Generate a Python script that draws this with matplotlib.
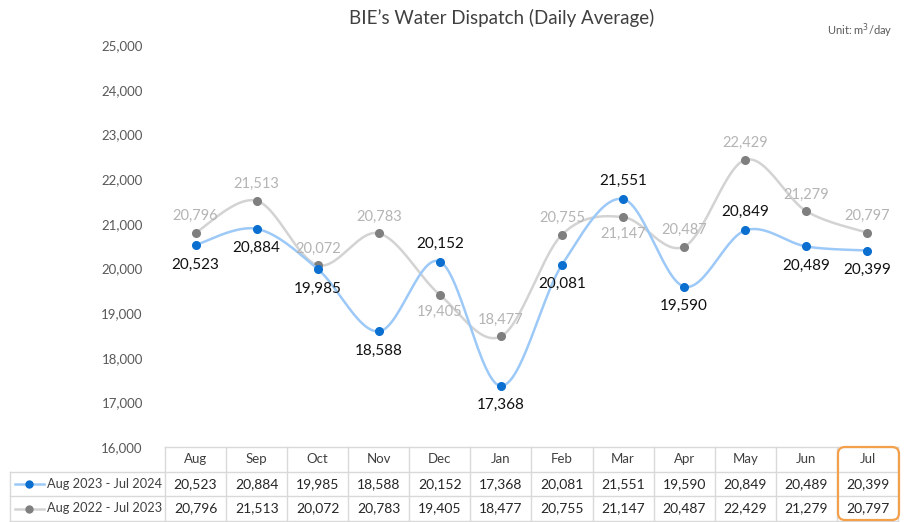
import numpy as np
import matplotlib.pyplot as plt
import matplotlib.transforms as mtransforms
from matplotlib.patches import FancyBboxPatch
from matplotlib.ticker import FuncFormatter

plt.rcParams["font.family"] = ["Lato", "DejaVu Sans"]

# data
months = ["Aug", "Sep", "Oct", "Nov", "Dec", "Jan", "Feb", "Mar", "Apr", "May", "Jun", "Jul"]
water_2324 = [20523, 20884, 19985, 18588, 20152, 17368, 20081, 21551, 19590, 20849, 20489, 20399]
water_2223 = [20796, 21513, 20072, 20783, 19405, 18477, 20755, 21147, 20487, 22429, 21279, 20797]
name_2324 = "Aug 2023 - Jul 2024"
name_2223 = "Aug 2022 - Jul 2023"

# where each data label sits
pos_2324 = ["below", "below", "below", "below", "above", "below",
            "below", "above", "below", "above", "below", "below"]
pos_2223 = ["above", "above", "above", "above", "below", "above",
            "above", "below", "above", "above", "above", "above"]


def smooth(xs, ys, n=30):
    # Catmull-Rom curve through the points (like Excel's smoothed line)
    p = np.column_stack([xs, ys]).astype(float)
    p = np.vstack([p[0], p, p[-1]])
    out = []
    t = np.linspace(0, 1, n)[:, None]
    for i in range(1, len(p) - 2):
        p0, p1, p2, p3 = p[i - 1], p[i], p[i + 1], p[i + 2]
        seg = 0.5 * ((2 * p1) + (-p0 + p2) * t + (2 * p0 - 5 * p1 + 4 * p2 - p3) * t ** 2
                     + (-p0 + 3 * p1 - 3 * p2 + p3) * t ** 3)
        out.append(seg)
    out = np.vstack(out)
    return out[:, 0], out[:, 1]


fig = plt.figure(figsize=(9.12, 5.22), dpi=100)
ax = fig.add_axes([165 / 912, 75 / 522, 733 / 912, 402 / 522])

x = np.arange(len(months))

# gray series (previous year)
sx, sy = smooth(x, water_2223)
ax.plot(sx, sy, color="#d3d3d3", lw=1.8, zorder=2, solid_capstyle="round")
ax.plot(x, water_2223, "o", color="#7f7f7f", ms=5.5, zorder=3)

# blue series (current year)
sx, sy = smooth(x, water_2324)
ax.plot(sx, sy, color="#9cc9f7", lw=1.8, zorder=4, solid_capstyle="round")
ax.plot(x, water_2324, "o", color="#0b6fd0", ms=5.5, zorder=5)

for i, v in enumerate(water_2223):
    dy = 12 if pos_2223[i] == "above" else -12
    ax.annotate(f"{v:,}", (i, v), xytext=(0, dy), textcoords="offset points",
                ha="center", va="center", fontsize=10.5, color="#b4b4b4", zorder=6)
for i, v in enumerate(water_2324):
    dy = 13 if pos_2324[i] == "above" else -14
    ax.annotate(f"{v:,}", (i, v), xytext=(0, dy), textcoords="offset points",
                ha="center", va="center", fontsize=11, color="#111111", zorder=7)

ax.set_xlim(-0.5, 11.5)
ax.set_ylim(16000, 25000)
ax.set_yticks(range(16000, 25001, 1000))
ax.yaxis.set_major_formatter(FuncFormatter(lambda v, p: f"{int(v):,}"))
ax.tick_params(axis="y", length=0, pad=16, labelsize=9.5, labelcolor="#595959")
ax.set_xticks([])
for s in ax.spines.values():
    s.set_visible(False)

# data table under the plot
tr = mtransforms.blended_transform_factory(ax.transData, ax.transAxes)
r = 24.6 / 402
left = (10 - 165) / (733 / 12) - 0.5
grid = dict(color="#d9d9d9", lw=1, transform=tr, clip_on=False, zorder=1)
ax.plot([-0.5, 11.5], [0, 0], **grid)
for k in (1, 2, 3):
    ax.plot([left, 11.5], [-k * r, -k * r], **grid)
for k in range(13):
    ax.plot([k - 0.5, k - 0.5], [0, -3 * r], **grid)
ax.plot([left, left], [-r, -3 * r], **grid)

for i, m in enumerate(months):
    ax.text(i, -0.5 * r, m, transform=tr, ha="center", va="center", fontsize=9.5, color="#404040")
    ax.text(i, -1.5 * r, f"{water_2324[i]:,}", transform=tr, ha="center", va="center",
            fontsize=10, color="#262626")
    ax.text(i, -2.5 * r, f"{water_2223[i]:,}", transform=tr, ha="center", va="center",
            fontsize=10, color="#262626")

# legend keys in the row labels
for k, (name, lc, mc) in enumerate([(name_2324, "#9cc9f7", "#0b6fd0"),
                                    (name_2223, "#d3d3d3", "#7f7f7f")]):
    yy = -(1.5 + k) * r
    ax.plot([left + 0.08, left + 0.55], [yy, yy], color=lc, lw=1.8, transform=tr, clip_on=False)
    ax.plot([left + 0.315], [yy], "o", color=mc, ms=5, transform=tr, clip_on=False)
    ax.text(left + 0.6, yy, name, transform=tr, ha="left", va="center", fontsize=9.2, color="#404040")

# orange highlight around Jul column
box = FancyBboxPatch((838, 2), 61, 73, boxstyle="round,pad=0,rounding_size=7",
                     transform=mtransforms.IdentityTransform(), fill=False,
                     edgecolor="#f4a04b", lw=1.6, clip_on=False)
fig.add_artist(box)

fig.text(502 / 912, 1 - 18 / 522, "BIE\u2019s Water Dispatch (Daily Average)",
         ha="center", va="center", fontsize=13.5, color="#404040")
fig.text(893 / 912, 1 - 31 / 522, "Unit: m$^3$/day", ha="right", va="center",
         fontsize=8, color="#595959")

fig.savefig("out.png", dpi=100)
